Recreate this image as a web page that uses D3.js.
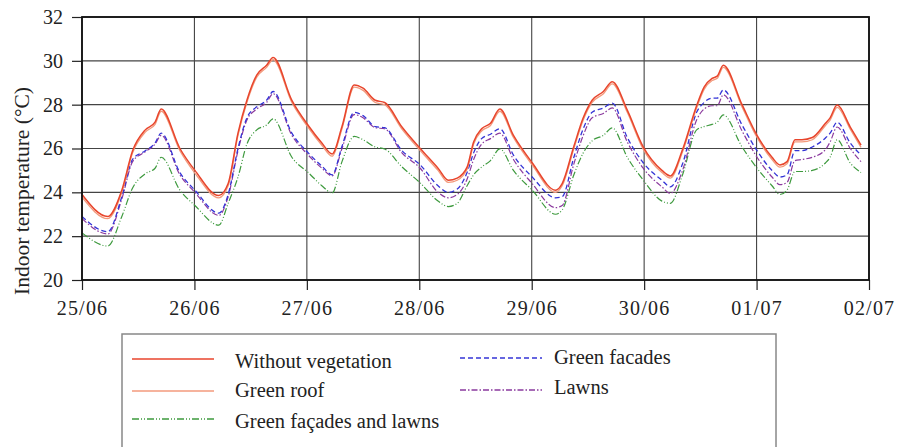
<!DOCTYPE html>
<html><head><meta charset="utf-8">
<script src="https://cdn.jsdelivr.net/npm/d3@7"></script>
<style>body{margin:0;background:#fff}svg{display:block}</style>
</head><body><svg id="c" width="897" height="447"></svg>
<script>
const hours = [0,5.5,8.5,10.8,13.5,15.6,16.9,20.9,24.1,29.2,31.2,33.3,35.2,37.3,39.4,40.8,44.8,48.3,51.2,53.4,55.5,58.1,60,62.6,64.6,68.3,72.2,76,78.2,80.1,82.2,83.6,85.3,87.2,89.2,92.1,96.1,101.1,102.5,105,107,108.9,111.3,113.2,116.4,119.8,123.8,125.6,128.2,131.2,132.8,134.5,135.6,136.9,140.9,144.1,147.3,149,150.5,152.2,153.7,155.9,158.7,159.7,161.2,164,166.3];
const withoutVegetation = [23.9,22.9,24.1,25.9,26.85,27.2,27.8,26.0,25.0,23.85,24.4,26.7,28.2,29.35,29.8,30.15,28.2,27.05,26.25,25.75,27.0,28.9,28.75,28.2,28.1,26.98,26.0,25.1,24.55,24.65,25.15,26.3,26.9,27.15,27.8,26.6,25.35,24.1,24.4,26.1,27.4,28.2,28.6,29.05,27.75,26.07,25.0,24.75,25.95,27.95,28.8,29.2,29.3,29.8,28.0,26.6,25.6,25.25,25.4,26.4,26.4,26.5,27.15,27.4,27.98,26.98,26.15];
const greenRoof = [23.78,22.8,24.0,25.8,26.75,27.1,27.7,25.9,24.88,23.75,24.3,26.6,28.1,29.25,29.7,30.05,28.1,26.95,26.15,25.65,26.9,28.8,28.65,28.1,28.0,26.88,25.9,25.0,24.45,24.55,25.05,26.2,26.8,27.05,27.7,26.5,25.25,24.0,24.3,26.0,27.3,28.1,28.5,28.95,27.65,25.97,24.9,24.65,25.85,27.85,28.7,29.1,29.2,29.7,27.9,26.5,25.5,25.15,25.3,26.3,26.3,26.4,27.05,27.3,27.88,26.88,26.05];
const greenFacades = [22.9,22.2,23.8,25.5,25.9,26.25,26.7,24.9,24.1,23.05,23.9,26.0,27.4,27.9,28.2,28.6,26.7,25.8,25.2,24.8,26.1,27.65,27.5,27.0,26.95,25.9,25.25,24.3,24.0,24.15,24.9,25.8,26.45,26.65,26.9,25.7,24.7,23.75,23.8,25.6,26.9,27.65,27.85,28.07,26.5,25.35,24.55,24.25,25.3,27.65,28.1,28.3,28.3,28.67,27.07,25.9,25.0,24.7,24.8,25.9,25.9,26.07,26.48,26.7,27.2,26.25,25.7];
const lawns = [22.8,22.1,23.7,25.4,25.85,26.2,26.6,24.8,24.0,22.95,23.8,25.9,27.3,27.8,28.1,28.5,26.6,25.7,25.1,24.75,26.0,27.55,27.4,26.95,26.9,25.8,25.1,24.0,23.75,23.9,24.6,25.5,26.2,26.45,26.7,25.5,24.4,23.3,23.4,25.3,26.6,27.4,27.6,27.85,26.3,25.1,24.25,23.95,25.0,27.3,27.8,27.95,27.95,28.45,26.8,25.6,24.7,24.35,24.45,25.45,25.5,25.6,25.95,26.3,26.98,26.0,25.4];
const greenFacadesAndLawns = [22.15,21.55,22.9,24.2,24.85,25.1,25.6,24.1,23.4,22.5,23.5,24.7,26.2,26.85,27.07,27.35,25.6,24.9,24.3,23.97,25.4,26.55,26.4,26.07,25.98,25.16,24.43,23.6,23.35,23.5,24.3,24.8,25.15,25.45,25.98,25.0,24.1,23.0,23.2,24.8,25.8,26.35,26.6,26.94,25.6,24.56,23.6,23.5,24.8,26.85,27.0,27.1,27.2,27.53,26.07,25.1,24.3,23.9,24.1,24.95,24.95,25.0,25.34,25.6,26.4,25.34,24.9];
const dayTicks = [0,24,48,72,96,120,144,168];
const dayLabels = ["25/06","26/06","27/06","28/06","29/06","30/06","01/07","02/07"];
const tempTicks = [20,22,24,26,28,30,32];
const seriesNames = ["Without vegetation","Green roof","Green façades and lawns","Green facades","Lawns"];

const series = [
  {name:seriesNames[0], values:withoutVegetation, color:"#e8452c", width:1.5, dash:null},
  {name:seriesNames[1], values:greenRoof, color:"#f39a7c", width:1.3, dash:null},
  {name:seriesNames[2], values:greenFacadesAndLawns, color:"#3e9a3e", width:1.2, dash:"7,2,1,2,1,2"},
  {name:seriesNames[3], values:greenFacades, color:"#3434d6", width:1.3, dash:"5,3"},
  {name:seriesNames[4], values:lawns, color:"#8b3a9e", width:1.2, dash:"6,2,1.5,2"}
];

const svg = d3.select("#c");
const L=82, R=869, T=17, B=280;
const x = d3.scaleLinear().domain([0,168]).range([L,R]);
const y = d3.scaleLinear().domain([20,32]).range([B,T]);
const serif = "'Liberation Serif','DejaVu Serif',serif";

// grid
const g = svg.append("g");
g.selectAll("line.h").data(tempTicks).join("line")
  .attr("x1",L).attr("x2",R).attr("y1",d=>y(d)).attr("y2",d=>y(d))
  .attr("stroke","#444").attr("stroke-width",1.1);
g.selectAll("line.v").data(dayTicks).join("line")
  .attr("y1",T).attr("y2",B).attr("x1",d=>x(d)).attr("x2",d=>x(d))
  .attr("stroke","#444").attr("stroke-width",1.1);

// axes
const yAxis = d3.axisLeft(y).tickValues(tempTicks).tickSize(10).tickPadding(9).tickFormat(d3.format("d"));
const xAxis = d3.axisBottom(x).tickValues(dayTicks).tickSize(10).tickPadding(11).tickFormat((d,i)=>dayLabels[i]);
const ya = svg.append("g").attr("transform",`translate(${L},0)`).call(yAxis);
const xa = svg.append("g").attr("transform",`translate(0,${B})`).call(xAxis);
[ya,xa].forEach(a=>{
  a.select(".domain").remove();
  a.selectAll(".tick line").attr("stroke","#222").attr("stroke-width",1.2);
  a.selectAll("text").attr("font-family",serif).attr("font-size",20).attr("fill","#222");
});
xa.selectAll("text").attr("letter-spacing",1.2);

// lines
const line = d3.line().x((d,i)=>x(hours[i])).y(d=>y(d)).curve(d3.curveMonotoneX);
const order = [2,4,3,1,0];
order.forEach(k=>{
  const s = series[k];
  svg.append("path").datum(s.values).attr("d",line)
    .attr("fill","none").attr("stroke",s.color).attr("stroke-width",s.width)
    .attr("stroke-dasharray",s.dash).attr("stroke-linejoin","round");
});

// frame
svg.append("rect").attr("x",L).attr("y",T).attr("width",R-L).attr("height",B-T)
  .attr("fill","none").attr("stroke","#111").attr("stroke-width",1.8);

// y label
svg.append("text").attr("transform","translate(29,191) rotate(-90)")
  .attr("text-anchor","middle").attr("font-family",serif).attr("font-size",21.5).attr("fill","#222")
  .text("Indoor temperature (°C)");

// legend
svg.append("rect").attr("x",122).attr("y",334).attr("width",654).attr("height",130)
  .attr("fill","none").attr("stroke","#888").attr("stroke-width",1.5);
const legPos = [
  {x:132, ly:359, ty:368},
  {x:132, ly:391, ty:397},
  {x:132, ly:419, ty:428},
  {x:460, ly:358, ty:364},
  {x:460, ly:390, ty:394}
];
series.forEach((s,i)=>{
  const p = legPos[i];
  svg.append("line").attr("x1",p.x).attr("x2",p.x+82).attr("y1",p.ly).attr("y2",p.ly)
    .attr("stroke",s.color).attr("stroke-width",1.3).attr("stroke-dasharray",s.dash);
  svg.append("text").attr("x",p.x+(i<3?103:94)).attr("y",p.ty)
    .attr("font-family",serif).attr("font-size",20.5).attr("fill","#222").text(s.name);
});
</script></body></html>
